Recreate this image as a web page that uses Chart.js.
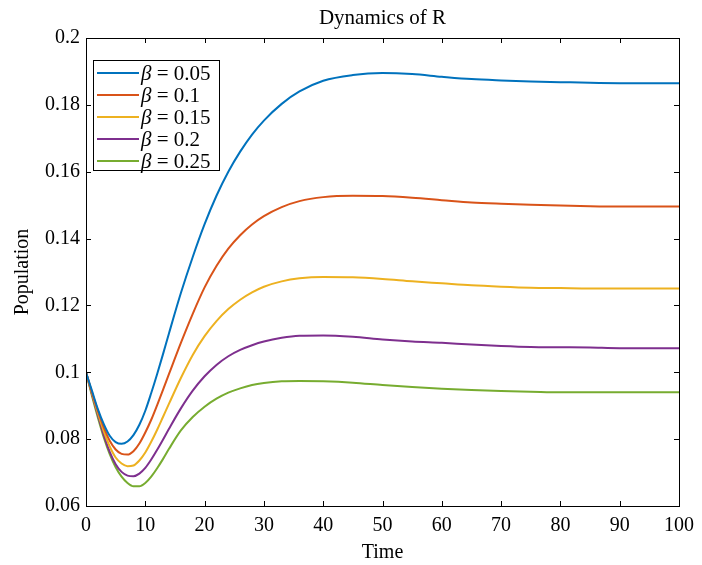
<!DOCTYPE html>
<html>
<head>
<meta charset="utf-8">
<script src="https://cdn.jsdelivr.net/npm/chart.js@4/dist/chart.umd.min.js"></script>
<style>
html,body{margin:0;padding:0;background:#fff;}
#wrap{width:702px;height:565px;position:relative;}
</style>
</head>
<body>
<div id="wrap"><canvas id="c" width="702" height="565"></canvas></div>
<script>
const chartTitle = 'Dynamics of R';
const xTitle = 'Time';
const yTitle = 'Population';
const betaLabels = ['0.05', '0.1', '0.15', '0.2', '0.25'];
const seriesColors = ['#0072BD', '#D95319', '#EDB120', '#7E2F8E', '#77AC30'];
const xTicks = [0, 10, 20, 30, 40, 50, 60, 70, 80, 90, 100];
const yTicks = [0.06, 0.08, 0.1, 0.12, 0.14, 0.16, 0.18, 0.2];

const times = [0,1,2,3,4,5,6,7,8,9,10,11,12,13,14,16,18,20,22,24,26,28,30,33,36,40,45,50,55,60,65,70,75,80,85,90,95,100];
const beta005 = [0.1,0.0945,0.089,0.0845,0.081,0.0791,0.0786,0.0793,0.0812,0.0843,0.0885,0.0938,0.0995,0.1055,0.1117,0.1237,0.1345,0.1443,0.1528,0.16,0.166,0.1711,0.1753,0.1803,0.184,0.1872,0.1889,0.1895,0.1892,0.1884,0.1877,0.1873,0.187,0.1868,0.1866,0.1865,0.1865,0.1865];
const beta01 = [0.1,0.094,0.0885,0.0835,0.0795,0.0769,0.0756,0.0754,0.0764,0.0787,0.082,0.0858,0.0902,0.0948,0.0995,0.1088,0.1175,0.1254,0.1318,0.137,0.141,0.1442,0.1467,0.1494,0.1512,0.1524,0.1528,0.1527,0.1522,0.1515,0.1508,0.1504,0.1501,0.1499,0.1497,0.1496,0.1496,0.1496];
const beta015 = [0.1,0.0938,0.0878,0.0823,0.0778,0.0745,0.0727,0.0719,0.0721,0.0736,0.076,0.0792,0.0828,0.0867,0.0906,0.0983,0.1052,0.1108,0.1153,0.1189,0.1217,0.1239,0.1256,0.1272,0.1281,0.1285,0.1284,0.1279,0.1272,0.1266,0.126,0.1256,0.1253,0.1252,0.1251,0.1251,0.1251,0.1251];
const beta02 = [0.1,0.0935,0.0872,0.0812,0.0762,0.0725,0.0702,0.0691,0.0689,0.0697,0.0714,0.0739,0.0768,0.0799,0.0831,0.0892,0.0945,0.0988,0.1022,0.1048,0.1067,0.1081,0.1092,0.1103,0.1109,0.111,0.1106,0.1098,0.1092,0.1088,0.1083,0.1079,0.1076,0.1075,0.1074,0.1072,0.1072,0.1072];
const beta025 = [0.1,0.093,0.0865,0.0805,0.0755,0.0716,0.0688,0.0669,0.0659,0.0659,0.0669,0.0688,0.0713,0.0741,0.0771,0.0826,0.0866,0.0897,0.0921,0.0939,0.0952,0.0962,0.0968,0.0973,0.0974,0.0973,0.0969,0.0962,0.0956,0.0951,0.0947,0.0944,0.0942,0.094,0.094,0.094,0.094,0.094];
const allSeries = [beta005, beta01, beta015, beta02, beta025];

const SERIF = '"Liberation Serif", "DejaVu Serif", serif';

const datasets = allSeries.map((s, i) => ({
  label: 'β = ' + betaLabels[i],
  data: times.map((t, k) => ({x: t, y: s[k]})),
  borderColor: seriesColors[i],
  backgroundColor: seriesColors[i],
  borderWidth: 2,
  pointRadius: 0,
  fill: false,
  cubicInterpolationMode: 'monotone'
}));

const framePlugin = {
  id: 'frame',
  afterDraw(chart) {
    const ctx = chart.ctx;
    const a = chart.chartArea;
    const xs = chart.scales.x, ys = chart.scales.y;
    ctx.save();
    // title
    ctx.fillStyle = '#000';
    ctx.font = '21px ' + SERIF;
    ctx.textAlign = 'center';
    ctx.textBaseline = 'middle';
    ctx.fillText(chartTitle, (a.left + a.right) / 2, 18);
    // frame
    ctx.strokeStyle = '#000';
    ctx.lineWidth = 1;
    ctx.strokeRect(Math.round(a.left) + 0.5, Math.round(a.top) + 0.5, Math.round(a.right - a.left), Math.round(a.bottom - a.top));
    // inward ticks
    const tl = 5;
    ctx.beginPath();
    xTicks.forEach(v => {
      const px = Math.round(xs.getPixelForValue(v)) + 0.5;
      ctx.moveTo(px, a.bottom); ctx.lineTo(px, a.bottom - tl);
      ctx.moveTo(px, a.top); ctx.lineTo(px, a.top + tl);
    });
    yTicks.forEach(v => {
      const py = Math.round(ys.getPixelForValue(v)) + 0.5;
      ctx.moveTo(a.left, py); ctx.lineTo(a.left + tl, py);
      ctx.moveTo(a.right, py); ctx.lineTo(a.right - tl, py);
    });
    ctx.stroke();
    // legend
    const lx = 93, ly = 60, lw = 126, lh = 110, rowH = 22;
    ctx.fillStyle = '#fff';
    ctx.fillRect(lx, ly, lw, lh);
    ctx.strokeRect(lx + 0.5, ly + 0.5, lw, lh);
    chart.data.datasets.forEach((ds, i) => {
      const y = ly + 13 + i * rowH;
      ctx.strokeStyle = ds.borderColor;
      ctx.lineWidth = 2;
      ctx.beginPath();
      ctx.moveTo(lx + 4, y); ctx.lineTo(lx + 46, y);
      ctx.stroke();
      ctx.fillStyle = '#000';
      ctx.textAlign = 'left';
      ctx.textBaseline = 'middle';
      ctx.font = 'italic 21px ' + SERIF;
      ctx.fillText('β', lx + 48, y + 1);
      const bw = ctx.measureText('β').width;
      ctx.font = '21px ' + SERIF;
      ctx.fillText(' = ' + betaLabels[i], lx + 48 + bw, y + 1);
    });
    ctx.restore();
  }
};

new Chart(document.getElementById('c'), {
  type: 'line',
  data: { datasets },
  options: {
    responsive: false,
    animation: false,
    devicePixelRatio: 1,
    layout: { padding: { top: 38, right: 23, left: 0, bottom: 0 } },
    plugins: { legend: { display: false }, title: { display: false }, tooltip: { enabled: false } },
    scales: {
      x: {
        type: 'linear', min: 0, max: 100,
        afterFit(s) { s.height = 59; },
        afterBuildTicks(s) { s.ticks = xTicks.map(v => ({value: v})); },
        grid: { display: false, drawTicks: false },
        border: { display: false },
        ticks: { color: '#000', font: { family: SERIF, size: 20 }, padding: 8, maxRotation: 0,
          callback: v => String(v) },
        title: { display: true, text: xTitle, color: '#000', font: { family: SERIF, size: 20 }, padding: { top: 0, bottom: 0 } }
      },
      y: {
        type: 'linear', min: 0.06, max: 0.2,
        afterFit(s) { s.width = 86; },
        afterBuildTicks(s) { s.ticks = yTicks.map(v => ({value: v})); },
        grid: { display: false, drawTicks: false },
        border: { display: false },
        ticks: { color: '#000', font: { family: SERIF, size: 20 }, padding: 6,
          callback: v => String(Number(v.toFixed(2))) },
        title: { display: true, text: yTitle, color: '#000', font: { family: SERIF, size: 20 }, padding: { top: 11, bottom: 0 } }
      }
    }
  },
  plugins: [framePlugin]
});
</script>
</body>
</html>
